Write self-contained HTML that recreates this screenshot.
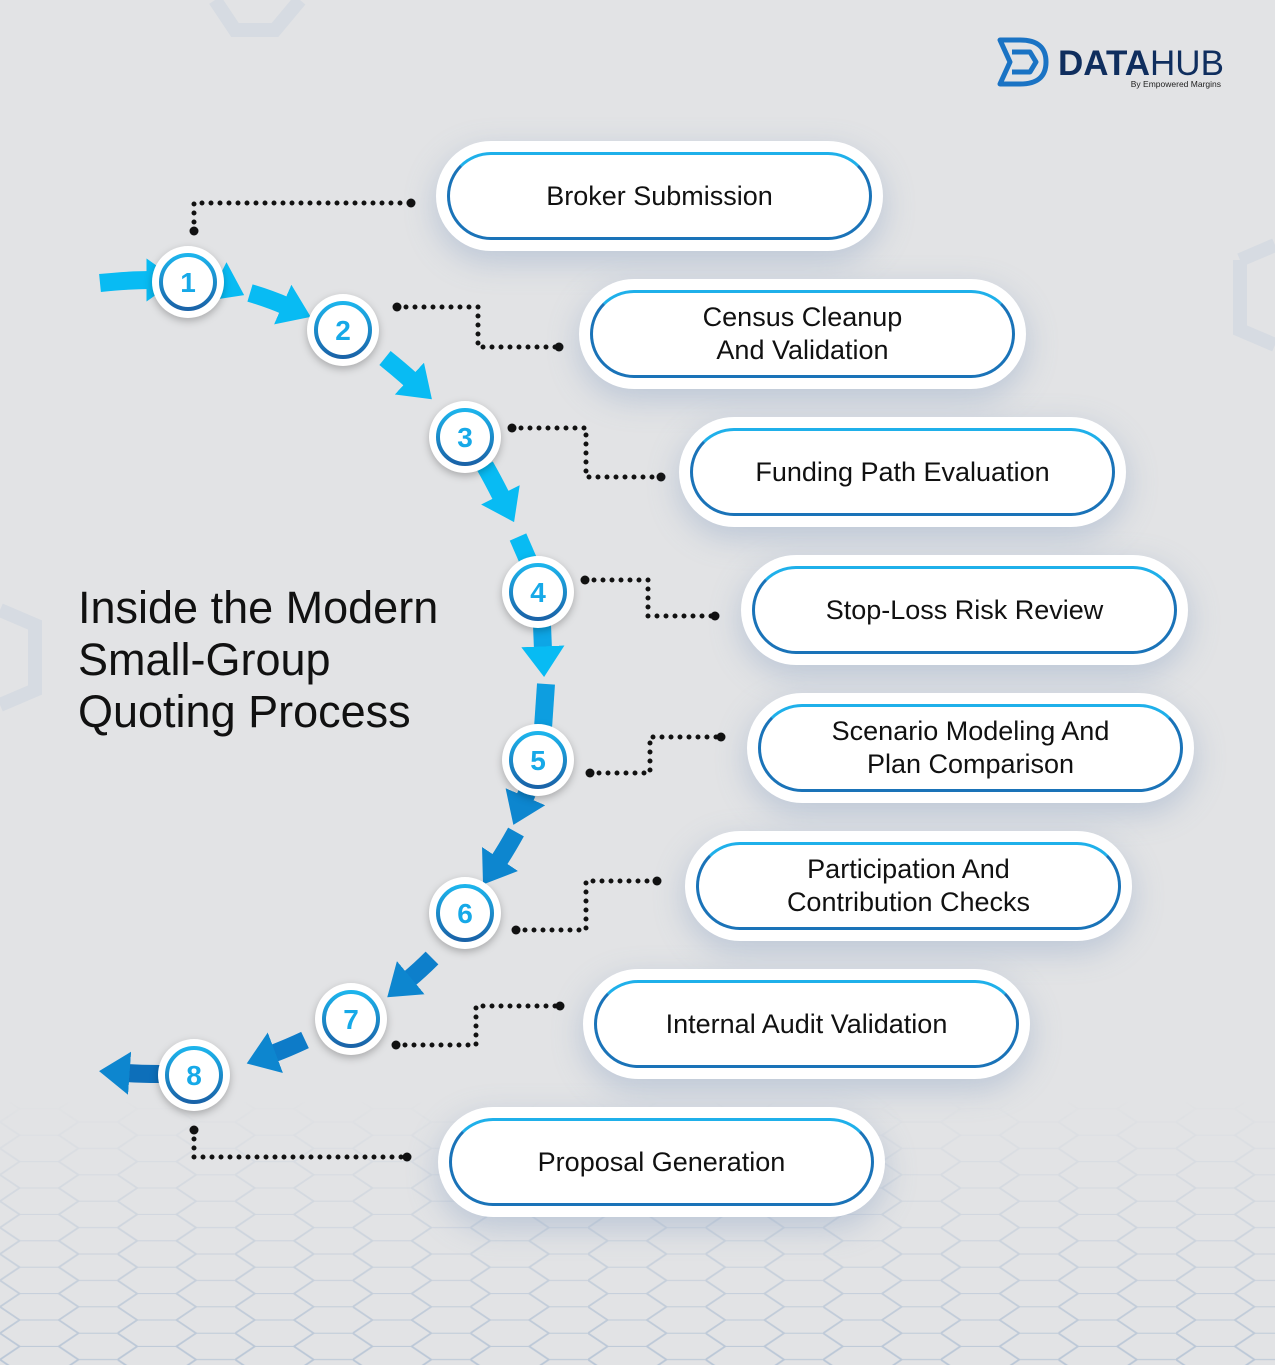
<!DOCTYPE html>
<html><head><meta charset="utf-8"><style>
html,body{margin:0;padding:0;}
body{width:1275px;height:1365px;background:#e2e3e5;position:relative;overflow:hidden;font-family:"Liberation Sans",sans-serif;}
.box{position:absolute;width:425px;height:88px;box-sizing:border-box;border:3px solid #1a73b8;border-radius:44px;background:#fff;display:flex;align-items:center;justify-content:center;text-align:center;font-size:27px;line-height:33px;color:#111;box-shadow:0 0 0 11px #fff,0 10px 30px 12px rgba(120,150,190,.35);border-top-color:#1fb0ea;}
.title{position:absolute;left:78px;top:582px;font-size:45px;line-height:52px;color:#111;}
</style></head><body>
<svg width="1275" height="1365" style="position:absolute;left:0;top:0">
<defs>
<pattern id="hex" width="84" height="48" patternUnits="userSpaceOnUse" patternTransform="scale(1.4,0.55)">
<path d="M0 24 L14 0 L42 0 L56 24 L42 48 L14 48 Z M56 24 L84 24" fill="none" stroke="#b9c6d6" stroke-width="2"/>
</pattern>
<linearGradient id="fade" x1="0" y1="0" x2="0" y2="1"><stop offset="0" stop-color="#fff" stop-opacity="0"/><stop offset="1" stop-color="#fff" stop-opacity="1"/></linearGradient>
<mask id="m"><rect x="0" y="1100" width="1275" height="265" fill="url(#fade)"/></mask>
<marker id="ahc" markerWidth="2" markerHeight="2.4" refX="0.2" refY="1.2" orient="auto" markerUnits="strokeWidth"><path d="M0 0 L1.7 1.2 L0 2.4 Z" fill="#08bbf3"/></marker>
<marker id="ahd" markerWidth="2" markerHeight="2.4" refX="0.2" refY="1.2" orient="auto" markerUnits="strokeWidth"><path d="M0 0 L1.7 1.2 L0 2.4 Z" fill="#0d86cf"/></marker>
<linearGradient id="ring" x1="0" y1="0" x2="0" y2="1"><stop offset="0" stop-color="#1db4ec"/><stop offset="1" stop-color="#1a63a8"/></linearGradient>
</defs>
<rect x="0" y="1100" width="1275" height="265" fill="url(#hex)" mask="url(#m)"/>
<g fill="none" stroke="#d6dbe2" stroke-width="14">
<path d="M215 0 L235 30 L275 30 L300 0"/>
<path d="M1240 260 L1275 245 M1240 260 L1240 330 L1275 345"/>
<path d="M0 610 L35 625 L35 690 L0 705"/>
</g>
<!-- arrows -->
<g fill="none" stroke-width="18">
<path d="M100 283 Q130 280 150 280" stroke="#08bbf3" marker-end="url(#ahc)"/>
<path d="M218 282 L220 283" stroke="#08bbf3" marker-end="url(#ahc)"/>
<path d="M250 293 Q270 299 286 306" stroke="#08bbf3" marker-end="url(#ahc)"/>
<path d="M385 358 Q400 370 412 381" stroke="#08bbf3" marker-end="url(#ahc)"/>
<path d="M485 466 Q493 480 502 498" stroke="#08bbf3" marker-end="url(#ahc)"/>
<path d="M518 537 L528 560" stroke="#08bbf3"/>
<path d="M542 625 L543 650" stroke="#0da6e6" marker-end="url(#ahc)"/>
<path d="M546 684 L543 728" stroke="#0d9ee0"/>
<path d="M527 793 L524 800" stroke="#0d86cf" marker-end="url(#ahd)"/>
<path d="M516 832 Q506 850 498 862" stroke="#0d86cf" marker-end="url(#ahd)"/>
<path d="M432 958 Q420 970 408 980" stroke="#0d7fcb" marker-end="url(#ahd)"/>
<path d="M305 1040 Q288 1048 272 1054" stroke="#0d7bc8" marker-end="url(#ahd)"/>
<path d="M160 1074 Q140 1074 126 1073" stroke="#0d6fba" marker-end="url(#ahd)"/>
</g>
<!-- dotted connectors -->
<g fill="none" stroke="#111" stroke-width="5" stroke-linecap="round" stroke-dasharray="0 9">
<path d="M194 231 L194 203 L411 203"/>
<path d="M397 307 L478 307 L478 347 L559 347"/>
<path d="M512 428 L586 428 L586 477 L661 477"/>
<path d="M585 580 L648 580 L648 616 L715 616"/>
<path d="M590 773 L650 773 L650 737 L721 737"/>
<path d="M516 930 L586 930 L586 881 L657 881"/>
<path d="M396 1045 L476 1045 L476 1006 L560 1006"/>
<path d="M194 1130 L194 1157 L407 1157"/>
</g>
<g fill="#111">
<circle cx="194" cy="231" r="4.5"/><circle cx="411" cy="203" r="4.5"/>
<circle cx="397" cy="307" r="4.5"/><circle cx="559" cy="347" r="4.5"/>
<circle cx="512" cy="428" r="4.5"/><circle cx="661" cy="477" r="4.5"/>
<circle cx="585" cy="580" r="4.5"/><circle cx="715" cy="616" r="4.5"/>
<circle cx="590" cy="773" r="4.5"/><circle cx="721" cy="737" r="4.5"/>
<circle cx="516" cy="930" r="4.5"/><circle cx="657" cy="881" r="4.5"/>
<circle cx="396" cy="1045" r="4.5"/><circle cx="560" cy="1006" r="4.5"/>
<circle cx="194" cy="1130" r="4.5"/><circle cx="407" cy="1157" r="4.5"/>
</g>
<!-- circles -->
<g font-family="Liberation Sans, sans-serif" font-size="28" font-weight="bold" fill="#16a9e8" text-anchor="middle">
<g transform="translate(188,282)"><circle r="36" fill="#fff" style="filter:drop-shadow(0 3px 4px rgba(0,0,0,.25))"/><circle r="27" fill="none" stroke="url(#ring)" stroke-width="4"/><text y="10">1</text></g>
<g transform="translate(343,330)"><circle r="36" fill="#fff" style="filter:drop-shadow(0 3px 4px rgba(0,0,0,.25))"/><circle r="27" fill="none" stroke="url(#ring)" stroke-width="4"/><text y="10">2</text></g>
<g transform="translate(465,437)"><circle r="36" fill="#fff" style="filter:drop-shadow(0 3px 4px rgba(0,0,0,.25))"/><circle r="27" fill="none" stroke="url(#ring)" stroke-width="4"/><text y="10">3</text></g>
<g transform="translate(538,592)"><circle r="36" fill="#fff" style="filter:drop-shadow(0 3px 4px rgba(0,0,0,.25))"/><circle r="27" fill="none" stroke="url(#ring)" stroke-width="4"/><text y="10">4</text></g>
<g transform="translate(538,760)"><circle r="36" fill="#fff" style="filter:drop-shadow(0 3px 4px rgba(0,0,0,.25))"/><circle r="27" fill="none" stroke="url(#ring)" stroke-width="4"/><text y="10">5</text></g>
<g transform="translate(465,913)"><circle r="36" fill="#fff" style="filter:drop-shadow(0 3px 4px rgba(0,0,0,.25))"/><circle r="27" fill="none" stroke="url(#ring)" stroke-width="4"/><text y="10">6</text></g>
<g transform="translate(351,1019)"><circle r="36" fill="#fff" style="filter:drop-shadow(0 3px 4px rgba(0,0,0,.25))"/><circle r="27" fill="none" stroke="url(#ring)" stroke-width="4"/><text y="10">7</text></g>
<g transform="translate(194,1075)"><circle r="36" fill="#fff" style="filter:drop-shadow(0 3px 4px rgba(0,0,0,.25))"/><circle r="27" fill="none" stroke="url(#ring)" stroke-width="4"/><text y="10">8</text></g>
</g>
<!-- logo -->
<g fill="none" stroke="#1a73c4" stroke-width="5" stroke-linejoin="round">
<path d="M1000 40 L1020 40 Q1046 40 1046 62 Q1046 84 1020 84 L1000 84 L1010 62 Z"/>
<path d="M1012 52 L1030 52 L1036 62 L1030 72 L1012 72"/>
</g>
<text x="1058" y="75" font-family="Liberation Sans, sans-serif" font-size="35" font-weight="bold" fill="#0f2e5e">DATA<tspan font-weight="normal">HUB</tspan></text>
<text x="1221" y="87" text-anchor="end" font-family="Liberation Sans, sans-serif" font-size="8.5" fill="#222">By Empowered Margins</text>
</svg>
<div class="title">Inside the Modern<br>Small-Group<br>Quoting Process</div>
<div class="box" style="left:447px;top:152px">Broker Submission</div>
<div class="box" style="left:590px;top:290px">Census Cleanup<br>And Validation</div>
<div class="box" style="left:690px;top:428px">Funding Path Evaluation</div>
<div class="box" style="left:752px;top:566px">Stop-Loss Risk Review</div>
<div class="box" style="left:758px;top:704px">Scenario Modeling And<br>Plan Comparison</div>
<div class="box" style="left:696px;top:842px">Participation And<br>Contribution Checks</div>
<div class="box" style="left:594px;top:980px">Internal Audit Validation</div>
<div class="box" style="left:449px;top:1118px">Proposal Generation</div>
</body></html>
